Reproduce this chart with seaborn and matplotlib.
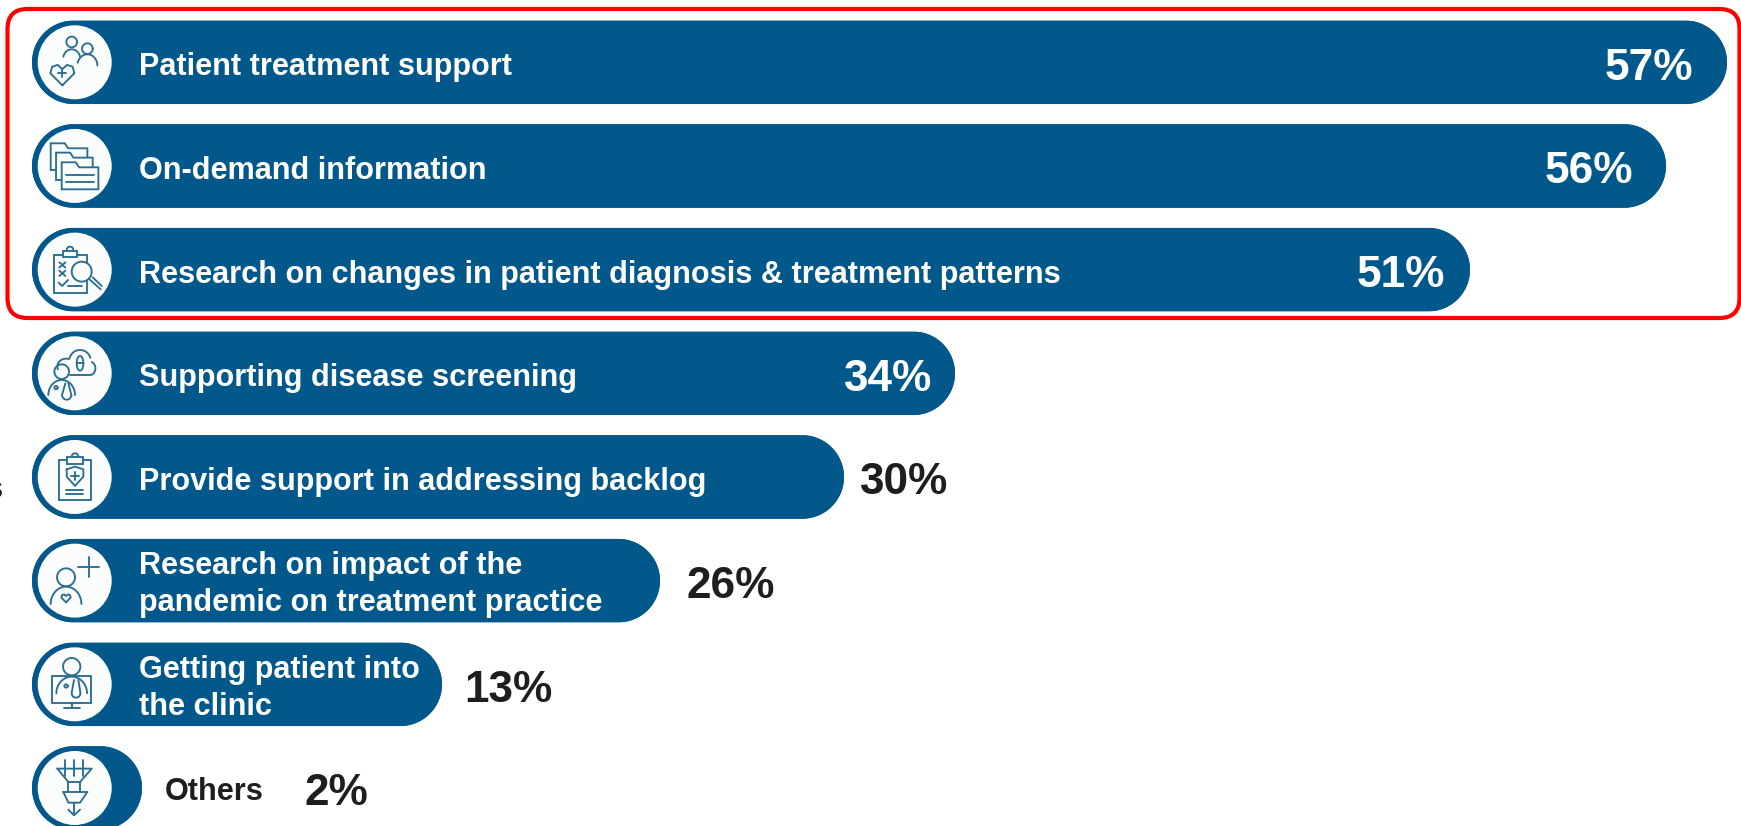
import numpy as np
import pandas as pd
import matplotlib
matplotlib.use("Agg")
import matplotlib.pyplot as plt
from matplotlib.patches import FancyBboxPatch, Circle, Polygon
import seaborn as sns

categories = ["Patient treatment support", "On-demand information",
              "Research on changes in patient diagnosis & treatment patterns",
              "Supporting disease screening", "Provide support in addressing backlog",
              "Research on impact of the\npandemic on treatment practice",
              "Getting patient into\nthe clinic", "Others"]
percent_labels = [57, 56, 51, 34, 30, 26, 13, 2]
# Bar lengths as they are drawn in the picture (the source graphic is not strictly proportional)
bar_lengths = [1695, 1634, 1438, 923, 812, 628, 410, 110]

BAR = "#02588A"; ICON = "#2C6E91"; DARK = "#1E1E1E"; RED = "#FF0000"
W, H = 1741, 826
X0, CY0, PITCH, BAR_H = 32, 62.3, 103.67, 83.5
LABEL_FS, VALUE_FS = 22.1, 31.8

sns.set_theme(style="white")
plt.rcParams["font.family"] = ["Liberation Sans", "DejaVu Sans"]
fig = plt.figure(figsize=(W / 100, H / 100), dpi=100, facecolor="white")
ax = fig.add_axes([0, 0, 1, 1])
df = pd.DataFrame({"category": categories, "length": bar_lengths})
sns.barplot(data=df, y="category", x="length", orient="h", color=BAR, saturation=1,
            width=BAR_H / PITCH, ax=ax, linewidth=0)
ax.set_xlim(-X0, W - X0)
ax.set_ylim((H - CY0) / PITCH, -CY0 / PITCH)
ax.axis("off")

# Overlay in pixel coordinates for the frame, the pills and the icons
ov = fig.add_axes([0, 0, 1, 1], facecolor="none")
ov.set_xlim(0, W); ov.set_ylim(H, 0); ov.axis("off")

ov.add_patch(FancyBboxPatch((7.5, 9), 1732, 309, boxstyle="round,pad=0,rounding_size=20",
                            fc="none", ec=RED, lw=3.0))


def pill_outline(x0, x1, cy, h):
    r = h / 2
    t = np.radians(np.linspace(-90, 90, 60))
    right = np.c_[x1 - r + r * np.cos(t), cy + r * np.sin(t)]
    left = np.c_[x0 + r - r * np.cos(t), cy - r * np.sin(t)]
    return np.vstack([right, left])


for i, (bar, pct) in enumerate(zip(ax.patches, percent_labels)):
    x, w = X0 + bar.get_x(), bar.get_width()
    cy = CY0 + PITCH * i
    pill = Polygon(pill_outline(x, x + w, cy, BAR_H), closed=True, fc=BAR, ec="none")
    ov.add_patch(pill)
    bar.set_clip_path(pill.get_path(), ov.transData)
    end = x + w
    if i <= 3:
        inset = [34, 33, 25, 23][i]
        ov.text(end - inset, cy + 6, f"{pct}%", color="white", fontsize=VALUE_FS, fontweight="bold",
                ha="right", va="center")
    elif i < 7:
        offset = [16, 26, 22][i - 4]
        ov.text(end + offset, cy + 6, f"{pct}%", color=DARK, fontsize=VALUE_FS, fontweight="bold",
                ha="left", va="center")
    else:
        ov.text(165, cy + 4, categories[i], color=DARK, fontsize=LABEL_FS, fontweight="bold",
                ha="left", va="center")
        ov.text(305, cy + 6, f"{pct}%", color=DARK, fontsize=VALUE_FS, fontweight="bold",
                ha="left", va="center")
    if i < 7:
        dy = 4 if "\n" in categories[i] else 5
        ov.text(139, cy + dy, categories[i], color="white", fontsize=LABEL_FS, fontweight="bold",
                ha="left", va="center", linespacing=1.3)
    ov.add_patch(Circle((74.7, cy), 37, fc="#FBFCFC", ec="none"))

ov.text(3, 490, "s", color=DARK, fontsize=LABEL_FS, ha="right", va="center", fontweight="bold")

# ---- icons: local coordinates are 3x pixels measured from the circle centre ----
class Icon:
    def __init__(self, row, cx=224, cy=187, lw=1.35):
        self.ox, self.oy = 74.7, CY0 + PITCH * row
        self.cx, self.cy, self.lw = cx, cy, lw
    def _p(self, xs, ys):
        return (self.ox + (np.asarray(xs, float) - self.cx) / 3,
                self.oy + (np.asarray(ys, float) - self.cy) / 3)
    def line(self, *pts, fill=False):
        xs, ys = zip(*pts)
        px, py = self._p(xs, ys)
        if fill:
            ov.add_patch(Polygon(np.c_[px, py], closed=True, fc="#FBFCFC", ec=ICON, lw=self.lw))
        else:
            ov.plot(px, py, color=ICON, lw=self.lw, solid_capstyle="round", solid_joinstyle="round")
    def arc(self, x, y, rx, ry=None, a=0, b=360, fill=False):
        ry = rx if ry is None else ry
        t = np.radians(np.linspace(a, b, 40))
        pts = list(zip(x + rx * np.cos(t), y - ry * np.sin(t)))
        self.line(*pts, fill=fill)
    def box(self, x0, y0, x1, y1, fill=True):
        self.line((x0, y0), (x1, y0), (x1, y1), (x0, y1), (x0, y0), fill=fill)
    def heart(self, x, y, s):
        self.line((x, y + s), (x - s, y), (x - s * .85, y - s * .55), (x - s * .4, y - s * .7),
                  (x, y - s * .35), (x + s * .4, y - s * .7), (x + s * .85, y - s * .55),
                  (x + s, y), (x, y + s))
    def folder(self, x0, y0, x1, y1):
        tab = x0 + (x1 - x0) * .42
        self.line((x0, y0 + 15), (x0, y0), (tab - 4, y0), (tab + 6, y0 + 15), (x1, y0 + 15),
                  (x1, y1), (x0, y1), (x0, y0 + 15), fill=True)

# row 0: people + heart
ic = Icon(0, cy=187)
ic.arc(215, 126, 16); ic.arc(215, 178, 26, 30, 15, 165)
ic.arc(262, 146, 16); ic.arc(262, 197, 30, 34, 0, 165)
ic.heart(187, 220, 36); ic.line((187, 208), (187, 232)); ic.line((175, 220), (199, 220))

# row 1: folders
ic = Icon(1, cy=498)
ic.folder(152, 430, 262, 510); ic.folder(168, 458, 278, 540); ic.folder(185, 487, 295, 568)
ic.line((198, 525), (282, 525)); ic.line((198, 545), (282, 545))

# row 2: clipboard + magnifier
ic = Icon(2, cy=809)
ic.box(162, 765, 260, 880)
ic.box(190, 752, 230, 770); ic.arc(210, 750, 10, 10, 0, 180)
for yy in (795, 820):
    ic.line((178, yy - 8), (196, yy + 8)); ic.line((178, yy + 8), (196, yy - 8))
ic.line((176, 848), (186, 858), (204, 840)); ic.line((205, 858), (245, 858))
ic.arc(245, 815, 30, fill=True); ic.line((268, 838), (302, 868)); ic.line((278, 832), (305, 858))

# row 3: cloud, pill, doctor
ic = Icon(3, cy=160)
ic.line((210, 165), (270, 165)); ic.arc(270, 145, 16, 20, -90, 70); ic.arc(240, 122, 32, 32, 15, 165)
ic.arc(198, 140, 26, 24, 70, 200)
ic.arc(240, 130, 10, 22); ic.line((230, 130), (250, 130))
ic.arc(185, 155, 22, fill=True)
ic.arc(185, 225, 40, 45, 0, 180); ic.arc(168, 203, 5); ic.arc(200, 225, 14, 14, 180, 360)
ic.line((186, 225), (196, 190)); ic.line((214, 225), (205, 190))

# row 4: clipboard + shield
ic = Icon(4, cy=471)
ic.box(177, 420, 272, 540); ic.box(200, 412, 250, 432); ic.arc(225, 410, 10, 10, 0, 180)
ic.line((200, 448), (225, 440), (250, 448), (250, 470), (225, 498), (200, 470), (200, 448))
ic.line((225, 455), (225, 480)); ic.line((213, 467), (237, 467))
ic.line((198, 510), (250, 510)); ic.line((198, 522), (250, 522))

# row 5: person + plus
ic = Icon(5, cy=782)
ic.line((268, 712), (268, 772)); ic.line((235, 742), (298, 742))
ic.arc(198, 772, 27); ic.arc(198, 852, 46, 52, 0, 180); ic.heart(198, 833, 14)

# row 6: doctor + monitor
ic = Icon(6, cy=1093)
ic.box(157, 1068, 272, 1148)
ic.line((215, 1148), (215, 1162)); ic.line((192, 1163), (240, 1163))
ic.arc(215, 1040, 26, fill=True)
ic.arc(215, 1120, 46, 50, 0, 180); ic.arc(198, 1098, 5); ic.arc(228, 1120, 13, 13, 180, 360)
ic.line((215, 1118), (222, 1080)); ic.line((241, 1118), (235, 1080))

# row 7: funnel
ic = Icon(7, cy=1403)
for xx in (196, 222, 250):
    ic.line((xx, 1320), (xx, 1368))
ic.line((172, 1345), (275, 1345), (240, 1385), (205, 1385), (172, 1345))
ic.line((190, 1415), (262, 1415), (240, 1447), (205, 1447), (190, 1415))
ic.line((205, 1385), (205, 1415)); ic.line((240, 1385), (240, 1415))
ic.line((222, 1447), (222, 1485)); ic.line((205, 1468), (222, 1485), (240, 1468))

fig.savefig("out.png", dpi=100, facecolor="white")
